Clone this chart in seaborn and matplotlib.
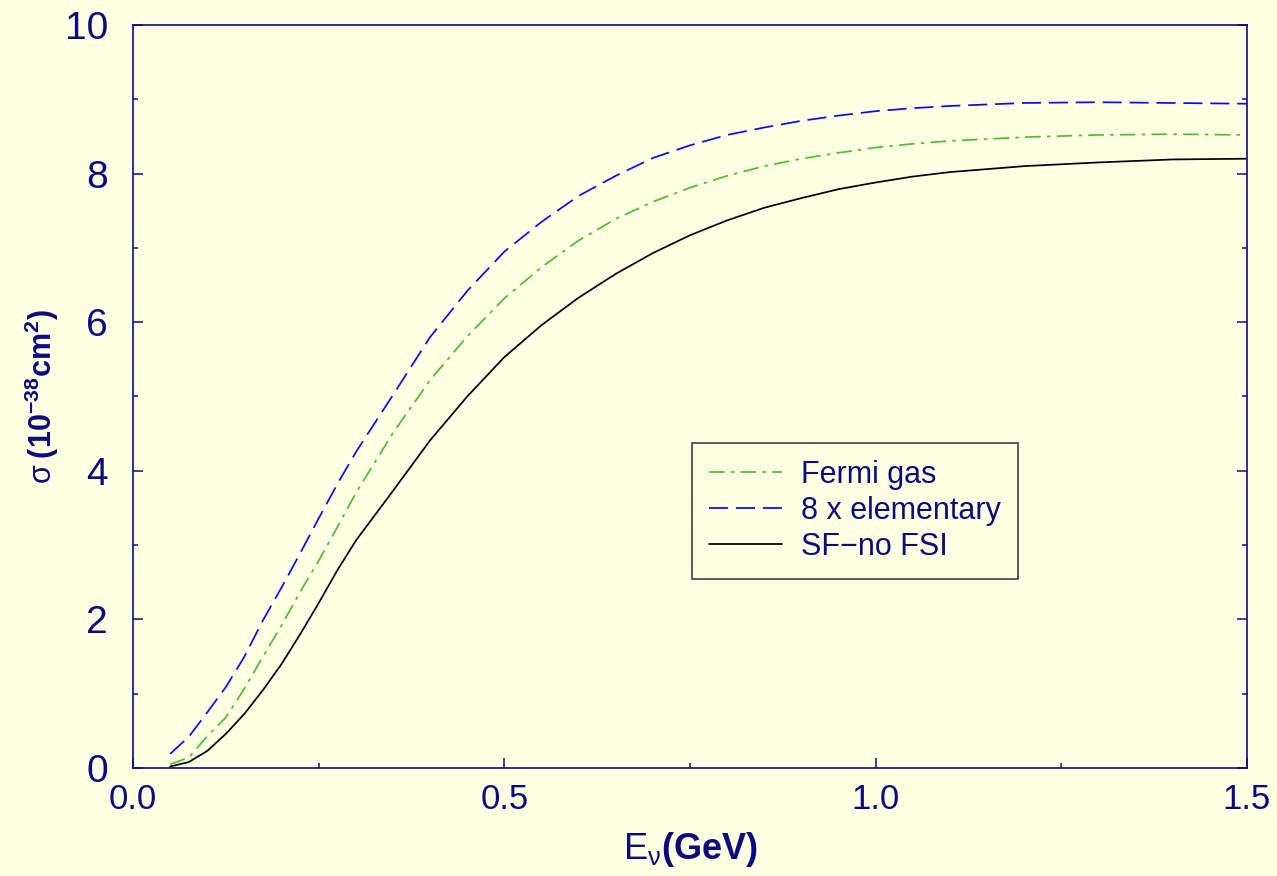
import numpy as np
import pandas as pd
import matplotlib
matplotlib.use("Agg")
import matplotlib.pyplot as plt
import seaborn as sns
from matplotlib.ticker import MultipleLocator

# ── Data ──────────────────────────────────────────────────────────────────────
energy = [0.05, 0.075, 0.1, 0.125, 0.15, 0.175, 0.2, 0.225, 0.25, 0.275, 0.3,
          0.35, 0.4, 0.45, 0.5, 0.55, 0.6, 0.65, 0.7, 0.75, 0.8, 0.85, 0.9,
          0.95, 1.0, 1.05, 1.1, 1.2, 1.3, 1.4, 1.5]
fermi_gas = [0.05, 0.14, 0.43, 0.68, 1.07, 1.50, 1.92, 2.37, 2.79, 3.24, 3.70,
             4.51, 5.22, 5.81, 6.32, 6.74, 7.10, 7.39, 7.62, 7.81, 7.97, 8.10,
             8.20, 8.28, 8.35, 8.40, 8.44, 8.49, 8.52, 8.53, 8.52]
elementary_x8 = [0.19, 0.42, 0.75, 1.09, 1.50, 1.99, 2.43, 2.89, 3.36, 3.82, 4.25,
                 5.02, 5.80, 6.42, 6.95, 7.35, 7.70, 7.97, 8.21, 8.38, 8.52, 8.62,
                 8.71, 8.78, 8.84, 8.88, 8.91, 8.95, 8.96, 8.95, 8.94]
sf_no_fsi = [0.02, 0.08, 0.23, 0.46, 0.73, 1.05, 1.40, 1.80, 2.22, 2.66, 3.06,
             3.73, 4.41, 5.00, 5.53, 5.96, 6.33, 6.65, 6.93, 7.17, 7.37, 7.54,
             7.67, 7.79, 7.88, 7.96, 8.02, 8.10, 8.15, 8.19, 8.20]

series_labels = ["Fermi gas", "8 x elementary", "SF\u2212no FSI"]
xtick_labels = ["0.0", "0.5", "1.0", "1.5"]
ytick_labels = ["0", "2", "4", "6", "8", "10"]

# ── Style ─────────────────────────────────────────────────────────────────────
BG = "#FFFFE3"
NAVY = "#0B0B80"

sns.set_theme(style="white")
plt.rcParams["font.family"] = ["Liberation Sans", "DejaVu Sans"]
plt.rcParams["mathtext.fontset"] = "custom"
plt.rcParams["mathtext.rm"] = "Liberation Sans"
plt.rcParams["mathtext.it"] = "Liberation Sans"
plt.rcParams["mathtext.bf"] = "Liberation Sans:bold"
plt.rcParams["axes.unicode_minus"] = True

fig = plt.figure(figsize=(12.77, 8.76), dpi=100, facecolor=BG)
ax = fig.add_axes([0.1042, 0.1233, 0.8723, 0.8482])
ax.set_facecolor(BG)

df = pd.DataFrame({
    "E": energy * 3,
    "sigma": fermi_gas + elementary_x8 + sf_no_fsi,
    "model": [series_labels[0]] * len(energy)
             + [series_labels[1]] * len(energy)
             + [series_labels[2]] * len(energy),
})

styles = {
    series_labels[0]: dict(color="#4DBE2E", linestyle=(0, (9, 3.6, 2, 3.6))),
    series_labels[1]: dict(color="#0A0AF0", linestyle=(0, (11, 4.5))),
    series_labels[2]: dict(color="black", linestyle="-"),
}
for name in series_labels:
    sub = df[df["model"] == name]
    sns.lineplot(data=sub, x="E", y="sigma", ax=ax, label=name,
                 linewidth=1.25, **styles[name])

# ── Axes ──────────────────────────────────────────────────────────────────────
ax.set_xlim(0, 1.5)
ax.set_ylim(0, 10)
ax.set_xticks([0, 0.5, 1.0, 1.5])
ax.set_xticklabels(xtick_labels)
ax.set_yticks([0, 2, 4, 6, 8, 10])
ax.set_yticklabels(ytick_labels)
ax.xaxis.set_minor_locator(MultipleLocator(0.25))
ax.yaxis.set_minor_locator(MultipleLocator(1))

ax.tick_params(axis="both", which="both", direction="in", colors=NAVY,
               labelcolor=NAVY, width=1.1)
ax.tick_params(axis="both", which="major", length=7)
ax.tick_params(axis="both", which="minor", length=3.5)
ax.tick_params(axis="y", which="both", left=True, right=True, pad=18,
               labelsize=28)
ax.tick_params(axis="x", which="both", bottom=True, top=False, pad=11,
               labelsize=25)

for side in ax.spines.values():
    side.set_visible(True)
    side.set_color(NAVY)
    side.set_linewidth(1.2)

ax.set_xlabel(r"$\mathrm{E}_{\nu}\mathbf{(GeV)}$", fontsize=26, color=NAVY,
              labelpad=10)
ax.set_ylabel(r"$\sigma\;\mathbf{(10^{-38}cm^{2})}$", fontsize=22, color=NAVY,
              labelpad=3)

leg = ax.legend(loc="upper left", bbox_to_anchor=(0.502, 0.4374),
                borderaxespad=0, frameon=True, fancybox=False, framealpha=1,
                facecolor=BG, edgecolor="#404040", fontsize=22,
                handlelength=2.4, handletextpad=0.62, labelspacing=0.2,
                borderpad=0.55)
leg.get_frame().set_linewidth(1.2)
for txt in leg.get_texts():
    txt.set_color(NAVY)

fig.savefig("out.png", dpi=100, facecolor=BG)
plt.close(fig)
